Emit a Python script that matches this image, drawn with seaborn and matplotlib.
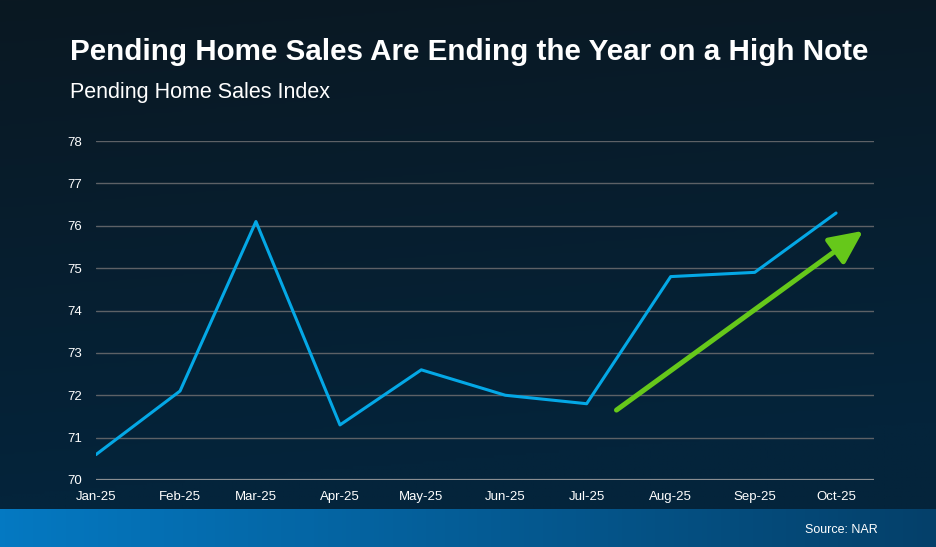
import numpy as np
import pandas as pd
import seaborn as sns
import matplotlib.pyplot as plt
import matplotlib.dates as mdates
from matplotlib.colors import LinearSegmentedColormap

months = ['2025-01-01', '2025-02-01', '2025-03-01', '2025-04-01', '2025-05-01',
          '2025-06-01', '2025-07-01', '2025-08-01', '2025-09-01', '2025-10-01']
index_values = [70.6, 72.1, 76.1, 71.3, 72.6, 72.0, 71.8, 74.8, 74.9, 76.3]
y_ticks = [70, 71, 72, 73, 74, 75, 76, 77, 78]

df = pd.DataFrame({'Month': pd.to_datetime(months), 'Index': index_values})

sns.set_theme(style="dark")
plt.rcParams['font.family'] = ['Liberation Sans', 'DejaVu Sans']

fig = plt.figure(figsize=(9.36, 5.47), dpi=100)

# background gradient
bg = fig.add_axes([0, 0, 1, 1], zorder=-2)
bg.axis('off')
yy, xx = np.mgrid[0:1:200j, 0:1:200j]
navy = LinearSegmentedColormap.from_list('navy', ['#0a1822', '#04243b'])
bg.imshow(np.clip(yy * 1.1 + xx * 0.15, 0, 1), cmap=navy, extent=[0, 1, 0, 1],
          origin='upper', aspect='auto')
# bottom band
band = LinearSegmentedColormap.from_list('band', ['#0479c2', '#04406a'])
bg.imshow(np.linspace(0, 1, 200)[None, :], cmap=band, extent=[0, 1, 0, 38 / 547],
          aspect='auto')
bg.set_xlim(0, 1)
bg.set_ylim(0, 1)

ax = fig.add_axes([96 / 936, 1 - 480 / 547, 778 / 936, 339 / 547])
ax.set_facecolor('none')
sns.lineplot(data=df, x='Month', y='Index', color='#04a8e6', linewidth=2.2, ax=ax)

# green trend arrow
arrow_start = (pd.Timestamp('2025-07-12'), 71.65)
arrow_end = (pd.Timestamp('2025-10-11'), 75.88)
ax.annotate('', xy=(mdates.date2num(arrow_end[0]), arrow_end[1]),
            xytext=(mdates.date2num(arrow_start[0]), arrow_start[1]),
            arrowprops=dict(arrowstyle='-|>,head_length=1.7,head_width=0.8',
                            color='#66c81a', lw=3.6, shrinkA=0, shrinkB=0))

ax.set_ylim(70, 78)
ax.set_yticks(y_ticks)
ax.set_xlim(pd.Timestamp('2025-01-01'), pd.Timestamp('2025-10-15'))
ax.set_xticks(df['Month'])
ax.xaxis.set_major_formatter(mdates.DateFormatter('%b-%y'))
for y in y_ticks:
    ax.axhline(y, color='#8a8e92' if y == 70 else '#5d6166', lw=1.6 if y == 70 else 1, zorder=0)
ax.grid(False)
for s in ax.spines.values():
    s.set_visible(False)
ax.tick_params(colors='white', labelsize=9.5, length=0)
ax.tick_params(axis='x', pad=8)
ax.tick_params(axis='y', pad=10)
ax.set_xlabel('')
ax.set_ylabel('')

fig.text(70 / 936, 1 - 60 / 547, 'Pending Home Sales Are Ending the Year on a High Note',
         color='white', fontsize=21.3, fontweight='bold')
fig.text(70 / 936, 1 - 98 / 547, 'Pending Home Sales Index', color='white', fontsize=15.5)
fig.text(878 / 936, 1 - 533 / 547, 'Source: NAR', color='white', fontsize=9, ha='right')

plt.savefig('out.png', dpi=100)
